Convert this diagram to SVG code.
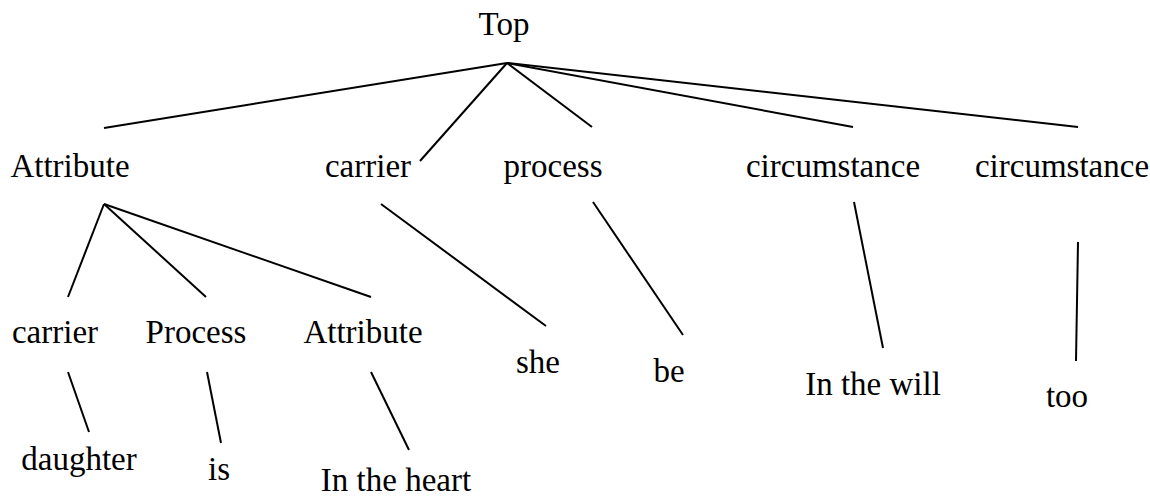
<svg xmlns="http://www.w3.org/2000/svg" width="1150" height="499" viewBox="0 0 1150 499">
<style>
text{font-family:"Liberation Serif","Times New Roman",serif;font-size:33px;fill:#000;text-anchor:middle}
line{stroke:#000;stroke-width:2;stroke-linecap:butt}
</style>
<rect width="1150" height="499" fill="#fff"/>
<g id="connectors">
<line x1="507" y1="63" x2="104" y2="128"/>
<line x1="507" y1="63" x2="420" y2="161"/>
<line x1="507" y1="63" x2="592" y2="127"/>
<line x1="507" y1="63" x2="853" y2="127"/>
<line x1="507" y1="63" x2="1078" y2="127"/>
<line x1="104" y1="204" x2="68" y2="297"/>
<line x1="104" y1="204" x2="206" y2="297"/>
<line x1="104" y1="204" x2="371" y2="297"/>
<line x1="381" y1="204" x2="546" y2="326"/>
<line x1="593" y1="202" x2="683" y2="335"/>
<line x1="854" y1="202" x2="883" y2="348"/>
<line x1="1078" y1="242" x2="1076" y2="361"/>
<line x1="68" y1="372" x2="89" y2="432"/>
<line x1="207" y1="372" x2="221" y2="443"/>
<line x1="371" y1="372" x2="409" y2="450"/>
</g>
<g id="n-top"><text x="504" y="35">Top</text></g>
<g id="n-attribute"><text x="70" y="177">Attribute</text></g>
<g id="n-carrier"><text x="368" y="177">carrier</text></g>
<g id="n-process"><text x="553" y="177">process</text></g>
<g id="n-circumstance1"><text x="833" y="177">circumstance</text></g>
<g id="n-circumstance2"><text x="1062" y="177">circumstance</text></g>
<g id="n-carrier2"><text x="55" y="343">carrier</text></g>
<g id="n-process2"><text x="196" y="343">Process</text></g>
<g id="n-attribute2"><text x="363" y="343">Attribute</text></g>
<g id="n-she"><text x="538" y="373">she</text></g>
<g id="n-be"><text x="669" y="382">be</text></g>
<g id="n-inthewill"><text x="873" y="395">In the will</text></g>
<g id="n-too"><text x="1067" y="407">too</text></g>
<g id="n-daughter"><text x="79" y="470">daughter</text></g>
<g id="n-is"><text x="219" y="480">is</text></g>
<g id="n-intheheart"><text x="396" y="491">In the heart</text></g>
</svg>
